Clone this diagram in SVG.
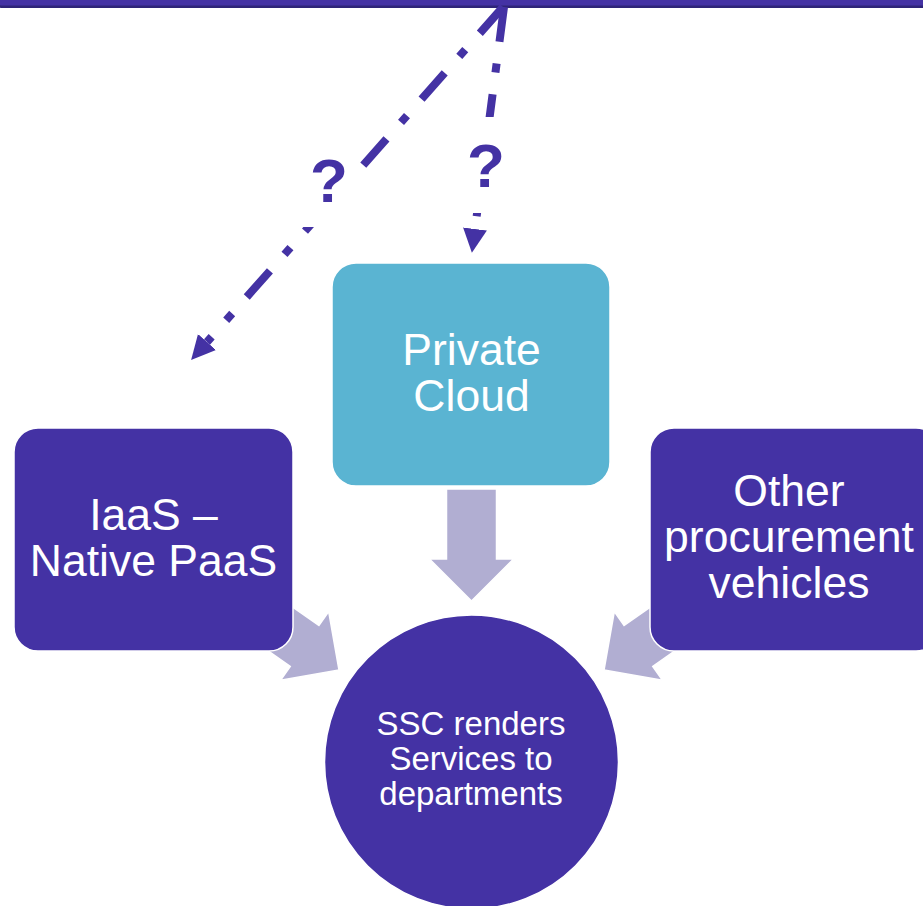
<svg xmlns="http://www.w3.org/2000/svg" width="923" height="906" viewBox="0 0 923 906">
<defs>
<style>
.dark{fill:#4432A4;stroke:#ffffff;stroke-width:1.5}
.light{fill:#5AB4D2;stroke:#ffffff;stroke-width:1.5}
.blk{fill:#B1AED2;stroke:#ffffff;stroke-width:1.5}
.dash{fill:none;stroke:#4432A4;stroke-width:8;stroke-dasharray:35 22 9 22;marker-end:url(#tri)}
.lbl{font-family:"Liberation Sans",Arial,sans-serif;fill:#ffffff;text-anchor:middle}
.big{font-size:44.5px}
.small{font-size:33px}
.q{font-family:"Liberation Sans",Arial,sans-serif;font-weight:bold;font-size:62px;fill:#4432A4;text-anchor:middle}
</style>
<marker id="tri" markerUnits="userSpaceOnUse" viewBox="0 -13 26 26" markerWidth="26" markerHeight="26" refX="0" refY="0" orient="auto">
<path d="M0,-12 L24,0 L0,12 z" fill="#4432A4"/>
</marker>
<path id="blockarrow" d="M-112,-25 L-42,-25 L-42,-42 L0,0 L-42,42 L-42,25 L-112,25 z"/>
</defs>
<rect width="923" height="906" fill="#ffffff"/>
<g id="topbar">
<rect x="-2" y="-30" width="930" height="38" rx="4" fill="#2E2478"/>
<rect x="-2" y="-30" width="930" height="35.5" rx="4" fill="#4432A4"/>
</g>
<g id="connectors">
<path class="dash" d="M503,7 L207,342"/>
<path class="dash" d="M504,7 L475,229"/>
<use href="#blockarrow" class="blk" transform="translate(471.5,601) rotate(90)"/>
<use href="#blockarrow" class="blk" transform="translate(339,670) rotate(35)"/>
<use href="#blockarrow" class="blk" transform="translate(604,670) rotate(145)"/>
</g>
<g id="label-q-left">
<rect x="290" y="150" width="64" height="77" fill="#ffffff"/>
<text class="q" x="329" y="202">?</text>
</g>
<g id="label-q-right">
<rect x="455" y="117" width="60" height="96" fill="#ffffff"/>
<text class="q" x="486" y="187">?</text>
</g>
<g id="node-private-cloud">
<rect class="light" x="332" y="263" width="278" height="223" rx="24"/>
<text class="lbl big" x="471.5" y="365">Private</text>
<text class="lbl big" x="471.5" y="411">Cloud</text>
</g>
<g id="node-iaas">
<rect class="dark" x="14" y="428" width="279" height="223" rx="24"/>
<text class="lbl big" x="153.5" y="530">IaaS –</text>
<text class="lbl big" x="153.5" y="576">Native PaaS</text>
</g>
<g id="node-other">
<rect class="dark" x="650" y="428" width="290" height="223" rx="24"/>
<text class="lbl big" x="789" y="506">Other</text>
<text class="lbl big" x="789" y="552">procurement</text>
<text class="lbl big" x="789" y="598">vehicles</text>
</g>
<g id="node-ssc">
<circle class="dark" cx="471.5" cy="762" r="147"/>
<text class="lbl small" x="471" y="735">SSC renders</text>
<text class="lbl small" x="471" y="770">Services to</text>
<text class="lbl small" x="471" y="805">departments</text>
</g>
</svg>
